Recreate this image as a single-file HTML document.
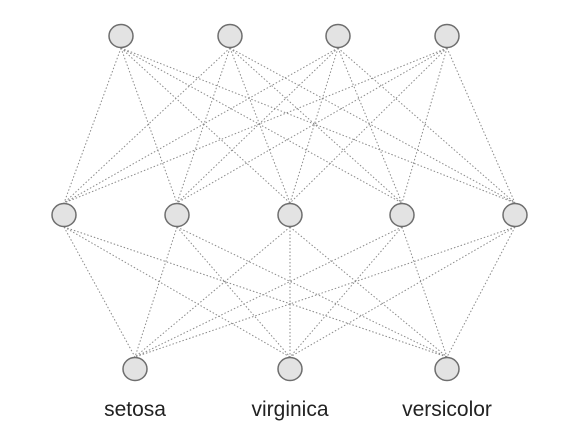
<!DOCTYPE html>
<html><head><style>html,body{margin:0;padding:0;background:#fff;}svg{display:block}</style></head>
<body>
<svg width="571" height="436" xmlns="http://www.w3.org/2000/svg">
<g stroke="#8a8a8a" stroke-width="1" stroke-dasharray="1.5,2" fill="none">
<path d="M121,48L64,203M121,48L177,203M121,48L290,203M121,48L402,203M121,48L515,203
M230,48L64,203M230,48L177,203M230,48L290,203M230,48L402,203M230,48L515,203
M338,48L64,203M338,48L177,203M338,48L290,203M338,48L402,203M338,48L515,203
M447,48L64,203M447,48L177,203M447,48L290,203M447,48L402,203M447,48L515,203"/>
<path d="M64,227L135,357M64,227L290,357M64,227L447,357
M177,227L135,357M177,227L290,357M177,227L447,357
M290,227L135,357M290,227L290,357M290,227L447,357
M402,227L135,357M402,227L290,357M402,227L447,357
M515,227L135,357M515,227L290,357M515,227L447,357"/>
</g>
<g fill="#e3e3e3" stroke="#6e6e6e" stroke-width="1.5">
<ellipse cx="121" cy="36" rx="12" ry="11.5"/>
<ellipse cx="230" cy="36" rx="12" ry="11.5"/>
<ellipse cx="338" cy="36" rx="12" ry="11.5"/>
<ellipse cx="447" cy="36" rx="12" ry="11.5"/>
<ellipse cx="64" cy="215" rx="12" ry="11.5"/>
<ellipse cx="177" cy="215" rx="12" ry="11.5"/>
<ellipse cx="290" cy="215" rx="12" ry="11.5"/>
<ellipse cx="402" cy="215" rx="12" ry="11.5"/>
<ellipse cx="515" cy="215" rx="12" ry="11.5"/>
<ellipse cx="135" cy="369" rx="12" ry="11.5"/>
<ellipse cx="290" cy="369" rx="12" ry="11.5"/>
<ellipse cx="447" cy="369" rx="12" ry="11.5"/>
</g>
<g font-family="Liberation Sans, sans-serif" font-size="21" fill="#222" text-anchor="middle">
<text x="135" y="416">setosa</text>
<text x="290" y="416">virginica</text>
<text x="447" y="416">versicolor</text>
</g>
</svg>
</body></html>
